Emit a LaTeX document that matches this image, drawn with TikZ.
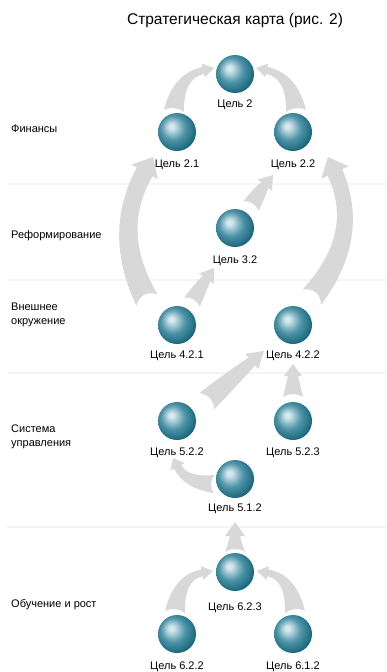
\documentclass[tikz,border=0pt]{standalone}
\usepackage{fontspec}
\setmainfont{Liberation Sans}
\usetikzlibrary{calc}
\definecolor{sphA}{RGB}{215,232,238}
\definecolor{sphB}{RGB}{78,148,168}
\definecolor{sphC}{RGB}{14,94,114}
\definecolor{argray}{RGB}{216,216,216}
\definecolor{sepgray}{RGB}{244,244,244}
\pgfdeclareradialshading{sphere}{\pgfpoint{-8bp}{8bp}}{color(0bp)=(sphA); color(3bp)=(sphA); color(16bp)=(sphB); color(31bp)=(sphC); color(50bp)=(sphC)}
% tapered arrow: #1 start, #2 control, #3 tip, #4 base half width, #5 shaft half width,
% #6 head half width, #7 head length, #8 base concavity
\newcommand\tarr[8]{%
  \coordinate (tS) at (#1);
  \coordinate (tC) at (#2);
  \coordinate (tE) at (#3);
  \coordinate (tH) at ($(tE)!#7pt!(tC)$);
  \coordinate (tSL) at ($(tS)!#4pt!90:(tC)$);
  \coordinate (tSR) at ($(tS)!#4pt!-90:(tC)$);
  \coordinate (tHL) at ($(tH)!#5pt!-90:(tC)$);
  \coordinate (tHR) at ($(tH)!#5pt!90:(tC)$);
  \coordinate (tAL) at ($(tH)!#6pt!-90:(tC)$);
  \coordinate (tAR) at ($(tH)!#6pt!90:(tC)$);
  \coordinate (tCL) at ($(tC)+0.5*(tSL)-0.5*(tS)+0.5*(tHL)-0.5*(tH)$);
  \coordinate (tCR) at ($(tC)+0.5*(tSR)-0.5*(tS)+0.5*(tHR)-0.5*(tH)$);
  \coordinate (tP) at ($(tS)!#8pt!(tC)$);
  \fill[argray] (tSR) .. controls ($(tSR)!0.6667!(tP)$) and ($(tSL)!0.6667!(tP)$) .. (tSL)
    .. controls ($(tSL)!0.6667!(tCL)$) and ($(tHL)!0.6667!(tCL)$) .. (tHL)
    -- (tAL) -- (tE) -- (tAR) -- (tHR)
    .. controls ($(tHR)!0.6667!(tCR)$) and ($(tSR)!0.6667!(tCR)$) .. (tSR) -- cycle;
}
\tikzset{
  sph/.style={circle, minimum size=38pt, inner sep=0pt, shading=sphere},
  lab/.style={font=\fontsize{11}{12}\selectfont, anchor=base, inner sep=0pt},
  sect/.style={font=\fontsize{11}{14}\selectfont, anchor=base west, inner sep=0pt, align=left},
  sep/.style={draw=sepgray, line width=2.5pt}
}
\begin{document}
\begin{tikzpicture}[x=1pt, y=-1pt]
\useasboundingbox (0,0) rectangle (386,672);
\fill[white] (0,0) rectangle (386,672);
% separators
\coordinate (s1a) at (7,184); \coordinate (s1b) at (386,184);
\coordinate (s2a) at (7,280); \coordinate (s2b) at (386,280);
\coordinate (s3a) at (7,373); \coordinate (s3b) at (386,373);
\coordinate (s4a) at (7,527); \coordinate (s4b) at (386,527);
\draw[sep] (s1a) -- (s1b);
\draw[sep] (s2a) -- (s2b);
\draw[sep] (s3a) -- (s3b);
\draw[sep] (s4a) -- (s4b);
% sphere positions
\coordinate (n2) at (235,74);
\coordinate (n21) at (177,132);
\coordinate (n22) at (293,132);
\coordinate (n32) at (235,228);
\coordinate (n421) at (177,325);
\coordinate (n422) at (293,325);
\coordinate (n522) at (177,421);
\coordinate (n523) at (293,421);
\coordinate (n512) at (235,479);
\coordinate (n623) at (235,572);
\coordinate (n622) at (177,634);
\coordinate (n612) at (293,634);
% arrows
\tarr{$(n21)+(-3,-21)$}{178,76}{$(n2)+(-21,-6)$}{10}{3.5}{7}{11}{6}
\tarr{$(n22)+(3,-21)$}{292,76}{$(n2)+(21,-6)$}{10}{3.5}{7}{11}{6}
\tarr{$(n421)+(-30,-25)$}{111,232}{$(n21)+(-24,25)$}{12}{9}{15}{17}{12}
\tarr{$(n422)+(19,-28)$}{363,235}{$(n22)+(35,25)$}{12}{8}{15}{17}{12}
\tarr{$(n32)+(16,-22)$}{261,190}{$(n22)+(-20,43)$}{9}{4.5}{9}{13}{6}
\tarr{$(n421)+(15,-23)$}{202,285}{$(n32)+(-21,40)$}{9}{4.5}{9}{13}{6}
\tarr{$(n522)+(30,-20)$}{236,375}{$(n422)+(-29,26)$}{11}{5}{10}{16}{8}
\tarr{$(n523)+(0,-24)$}{293,387}{$(n422)+(0,39)$}{10}{5}{9}{12}{6}
\tarr{$(n512)+(-21,5)$}{186,483}{$(n522)+(-4,37)$}{9}{4}{8}{10}{6}
\tarr{$(n623)+(0,-20)$}{235,546}{$(n512)+(0,43)$}{10}{5}{10}{14}{6}
\tarr{$(n622)+(-2,-22)$}{179,577}{$(n623)+(-22,-1)$}{10}{3.5}{7}{11}{6}
\tarr{$(n612)+(2,-22)$}{291,577}{$(n623)+(22,-1)$}{10}{3.5}{7}{11}{6}
% spheres
\foreach \n in {n2,n21,n22,n32,n421,n422,n522,n523,n512,n623,n622,n612}
  \node[sph] (b\n) at (\n) {};
% labels
\node[lab] (l2) at ($(n2)+(0,33)$) {Цель 2};
\node[lab] (l21) at ($(n21)+(0,35)$) {Цель 2.1};
\node[lab] (l22) at ($(n22)+(0,35)$) {Цель 2.2};
\node[lab] (l32) at ($(n32)+(0,35)$) {Цель 3.2};
\node[lab] (l421) at ($(n421)+(0,33)$) {Цель 4.2.1};
\node[lab] (l422) at ($(n422)+(0,33)$) {Цель 4.2.2};
\node[lab] (l522) at ($(n522)+(0,34)$) {Цель 5.2.2};
\node[lab] (l523) at ($(n523)+(0,34)$) {Цель 5.2.3};
\node[lab] (l512) at ($(n512)+(0,32)$) {Цель 5.1.2};
\node[lab] (l623) at ($(n623)+(0,38)$) {Цель 6.2.3};
\node[lab] (l622) at ($(n622)+(0,35)$) {Цель 6.2.2};
\node[lab] (l612) at ($(n612)+(0,35)$) {Цель 6.1.2};
% section titles
\node[sect] (t1) at (11,132) {Финансы};
\node[sect] (t2) at (11,238) {Реформирование};
\node[sect] (t3) at (11,324) {Внешнее\\окружение};
\node[sect] (t4) at (11,446) {Система\\управления};
\node[sect] (t5) at (11,607) {Обучение и рост};
% title
\node[anchor=base, inner sep=0pt, font=\fontsize{15.5}{18}\selectfont] (title) at (235,24) {Стратегическая карта (рис. 2)};
\end{tikzpicture}
\end{document}
